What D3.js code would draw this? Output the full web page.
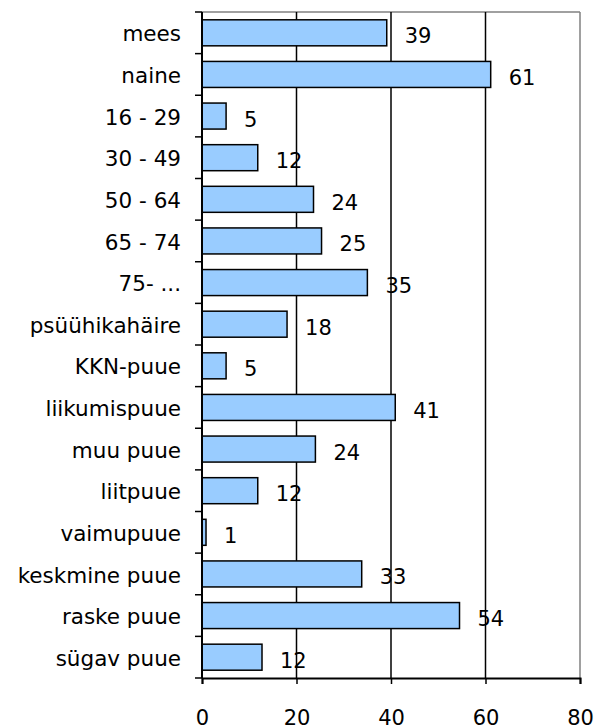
<!DOCTYPE html>
<html>
<head>
<meta charset="utf-8">
<script src="https://cdn.jsdelivr.net/npm/d3@7"></script>
<style>
  body { margin: 0; background: #fff; overflow: hidden; }
  svg { display: block; }
  text { font-family: "DejaVu Sans", Verdana, sans-serif; fill: #000; }
</style>
</head>
<body>
<div id="chart"></div>
<script>
// kategooriad ja väärtused (%)
const categories = ['mees', 'naine', '16 - 29', '30 - 49', '50 - 64', '65 - 74', '75- ...',
  'psüühikahäire', 'KKN-puue', 'liikumispuue', 'muu puue', 'liitpuue', 'vaimupuue',
  'keskmine puue', 'raske puue', 'sügav puue']
const values = [39.1, 61.1, 5.1, 11.8, 23.6, 25.3, 35.0, 18.0, 5.1, 40.9, 24.0, 11.8, 0.85, 33.8, 54.5, 12.7]
const valueLabels = ['39', '61', '5', '12', '24', '25', '35', '18', '5', '41', '24', '12', '1', '33', '54', '12']
const xTicks = [0, 20, 40, 60, 80]

const width = 598
const height = 728
const margin = { top: 12, right: 18, bottom: 50, left: 202 }
const innerWidth = width - margin.left - margin.right
const innerHeight = height - margin.top - margin.bottom

const data = categories.map((c, i) => ({ cat: c, value: values[i], label: valueLabels[i] }))

const svg = d3.select('#chart').append('svg')
  .attr('width', width).attr('height', height)
  .append('g').attr('transform', `translate(${margin.left}, ${margin.top})`)

const x = d3.scaleLinear().domain([0, 80]).range([0, innerWidth])
const y = d3.scaleBand().domain(categories).range([0, innerHeight])
  .paddingInner(0.375).paddingOuter(0.1875)

// raam üleval ja paremal (hall)
svg.append('line').attr('x1', 0).attr('x2', innerWidth).attr('y1', 0).attr('y2', 0)
  .attr('stroke', '#808080').attr('stroke-width', 1.5)
svg.append('line').attr('x1', innerWidth).attr('x2', innerWidth).attr('y1', 0).attr('y2', innerHeight)
  .attr('stroke', '#808080').attr('stroke-width', 1.5)

// ruudustik
svg.selectAll('.grid')
  .data(xTicks.filter(d => d > 0 && d < 80))
  .join('line')
  .attr('class', 'grid')
  .attr('x1', d => x(d)).attr('x2', d => x(d))
  .attr('y1', 0).attr('y2', innerHeight)
  .attr('stroke', '#000').attr('stroke-width', 1.5)

// tulbad
svg.selectAll('.bar')
  .data(data)
  .join('rect')
  .attr('class', 'bar')
  .attr('x', 0)
  .attr('y', d => y(d.cat))
  .attr('width', d => x(d.value))
  .attr('height', y.bandwidth())
  .attr('fill', '#99ccff')
  .attr('stroke', '#000')
  .attr('stroke-width', 1.5)

// väärtuste sildid
svg.selectAll('.val')
  .data(data)
  .join('text')
  .attr('class', 'val')
  .attr('x', d => x(d.value) + 18)
  .attr('y', d => y(d.cat) + y.bandwidth() / 2)
  .attr('dy', '0.5em')
  .style('font-size', '21px')
  .text(d => d.label)

// x telg
const xAxis = svg.append('g')
  .attr('transform', `translate(0, ${innerHeight})`)
  .call(d3.axisBottom(x).tickValues(xTicks).tickSize(6).tickPadding(26))
xAxis.select('.domain').attr('stroke', '#000').attr('stroke-width', 2)
xAxis.selectAll('.tick line').attr('stroke', '#000').attr('stroke-width', 1.5)
xAxis.selectAll('.tick text').style('font-size', '21px')
  .style('font-family', '"DejaVu Sans", Verdana, sans-serif').attr('fill', '#000')

// y telg: joon ja kriipsud kategooriate vahel
svg.append('line').attr('x1', 0).attr('x2', 0).attr('y1', 0).attr('y2', innerHeight)
  .attr('stroke', '#000').attr('stroke-width', 2)
const gap = (y.step() - y.bandwidth()) / 2
const boundaries = [0].concat(categories.map(c => y(c) + y.bandwidth() + gap))
svg.selectAll('.ytick')
  .data(boundaries)
  .join('line')
  .attr('class', 'ytick')
  .attr('x1', -7).attr('x2', 0)
  .attr('y1', d => d).attr('y2', d => d)
  .attr('stroke', '#000').attr('stroke-width', 1.5)

svg.selectAll('.cat')
  .data(categories)
  .join('text')
  .attr('class', 'cat')
  .attr('x', -21)
  .attr('y', d => y(d) + y.bandwidth() / 2)
  .attr('dy', '0.4em')
  .attr('text-anchor', 'end')
  .style('font-size', '21.5px')
  .text(d => d)
</script>
</body>
</html>
